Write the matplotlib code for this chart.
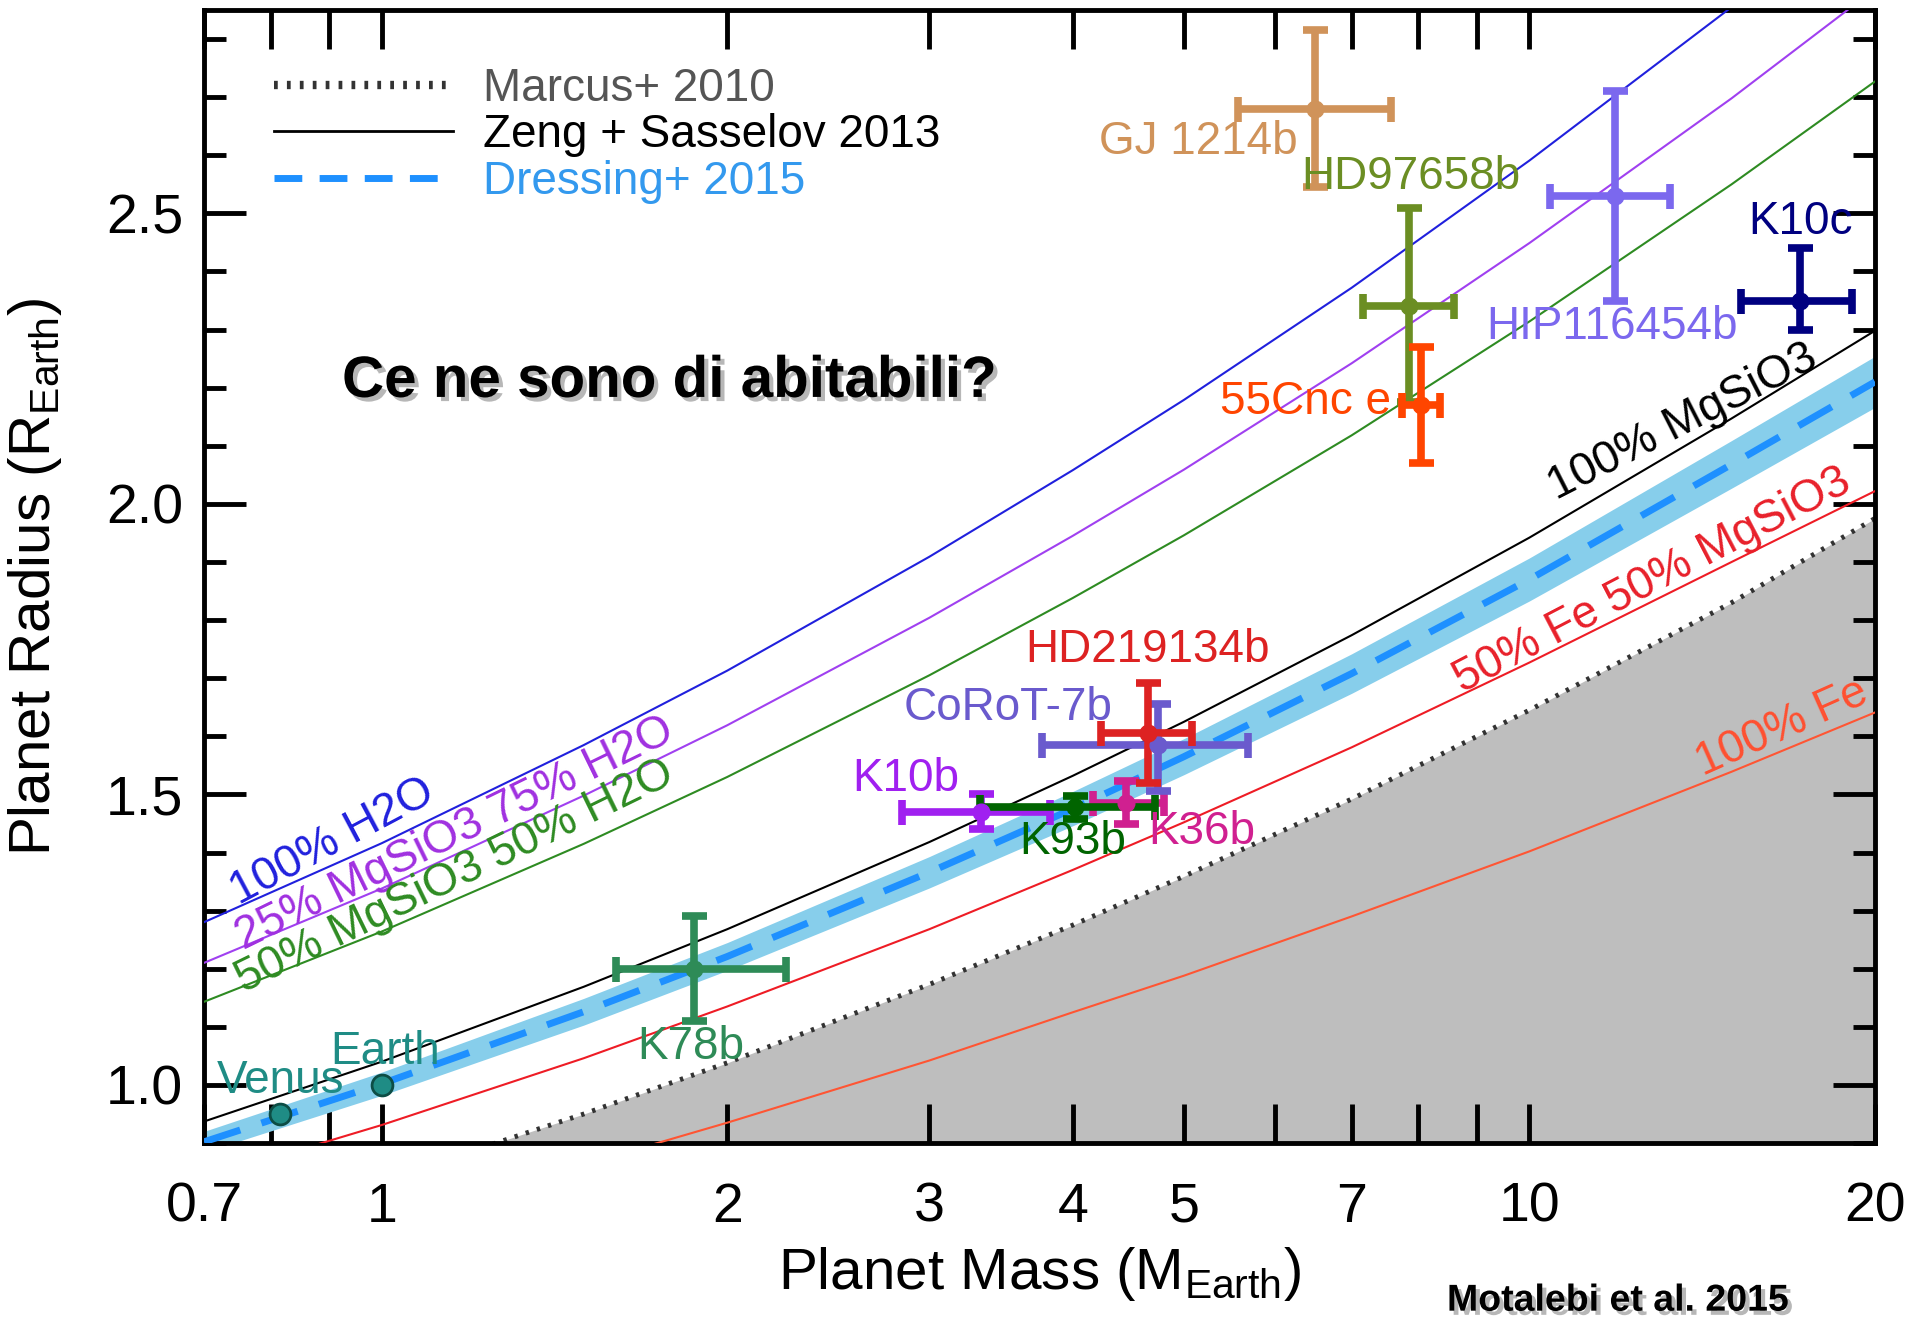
import numpy as np
import matplotlib
matplotlib.use("Agg")
import matplotlib.pyplot as plt
import matplotlib.patheffects as pe
from matplotlib.ticker import MultipleLocator, NullFormatter

plt.rcParams['font.family'] = ['Liberation Sans', 'DejaVu Sans']
plt.rcParams['mathtext.default'] = 'regular'

# composition curves (mass in M_earth, radius in R_earth)
mass_grid = [0.7, 1.0, 1.5, 2.0, 3.0, 4.0, 5.0, 7.0, 10.0, 15.0, 20.0]
r_h2o = [1.280, 1.416, 1.585, 1.713, 1.909, 2.058, 2.179, 2.372, 2.591, 2.855, 3.054]
r_25mg = [1.210, 1.338, 1.498, 1.619, 1.804, 1.945, 2.059, 2.242, 2.449, 2.698, 2.886]
r_50mg = [1.143, 1.264, 1.415, 1.530, 1.705, 1.838, 1.946, 2.118, 2.314, 2.550, 2.727]
r_mgsio3 = [0.937, 1.040, 1.169, 1.268, 1.418, 1.532, 1.625, 1.774, 1.942, 2.147, 2.298]
r_dressing = [0.902, 1.002, 1.126, 1.221, 1.366, 1.475, 1.565, 1.708, 1.870, 2.068, 2.210]
r_dressing_hi = [0.920, 1.022, 1.149, 1.245, 1.393, 1.505, 1.596, 1.742, 1.907, 2.109, 2.254]
r_dressing_lo = [0.884, 0.982, 1.103, 1.197, 1.339, 1.446, 1.534, 1.674, 1.833, 2.027, 2.166]
r_fe50 = [0.839, 0.931, 1.046, 1.135, 1.268, 1.370, 1.452, 1.581, 1.727, 1.900, 2.022]

mass_fe = [1.5, 2.0, 3.0, 4.0, 5.0, 7.0, 10.0, 15.0, 20.0]
r_fe = [0.863, 0.935, 1.042, 1.125, 1.188, 1.290, 1.402, 1.539, 1.641]

mass_marcus = [1.0, 1.5, 2.0, 3.0, 4.0, 5.0, 7.0, 10.0, 15.0, 20.0]
r_marcus = [0.835, 0.950, 1.038, 1.173, 1.275, 1.359, 1.492, 1.645, 1.830, 1.975]

# planets
names = ['K78b', 'K10b', 'K36b', 'CoRoT-7b', 'K93b', 'HD219134b', 'GJ 1214b',
         'HD97658b', '55Cnc e', 'HIP116454b', 'K10c']
p_mass = [1.87, 3.33, 4.45, 4.75, 4.02, 4.65, 6.5, 7.86, 8.05, 11.86, 17.2]
p_mass_lo = [0.27, 0.49, 0.28, 0.99, 0.70, 0.42, 0.93, 0.70, 0.30, 1.43, 1.9]
p_mass_hi = [0.38, 0.49, 0.35, 0.94, 0.70, 0.43, 1.08, 0.73, 0.30, 1.39, 1.9]
p_rad = [1.20, 1.47, 1.486, 1.585, 1.478, 1.606, 2.68, 2.34, 2.17, 2.53, 2.35]
p_rad_lo = [0.09, 0.03, 0.037, 0.08, 0.02, 0.086, 0.135, 0.165, 0.10, 0.18, 0.05]
p_rad_hi = [0.09, 0.03, 0.037, 0.07, 0.02, 0.086, 0.135, 0.170, 0.10, 0.18, 0.09]
p_colors = ['#2E8B57', '#A020F0', '#D02090', '#6A5ACD', '#006400', '#DD2222',
            '#D0935A', '#6B8E23', '#FF4500', '#7B68EE', '#000080']
p_label_pos = [(1.67, 1.065), (2.57, 1.527), (4.65, 1.435), (2.85, 1.649),
               (3.59, 1.418), (3.64, 1.748), (4.22, 2.622), (6.33, 2.563),
               (5.37, 2.176), (9.17, 2.305), (15.5, 2.485)]

solar_names = ['Venus', 'Earth']
solar_mass = [0.815, 1.0]
solar_rad = [0.95, 1.0]
solar_label_pos = [(0.719, 1.006), (0.901, 1.057)]

fig = plt.figure(figsize=(19.15, 13.17), dpi=100)
ax = fig.add_axes([0.1065, 0.1321, 0.8726, 0.8603])
ax.set_xscale('log')

# excluded region (Marcus et al. 2010)
ax.fill_between(mass_marcus, r_marcus, 0.5, color='#BEBEBE', lw=0, zorder=1)
ax.plot(mass_marcus, r_marcus, color='#333333', lw=3.5, ls=(0, (0.7, 1.7)), zorder=2)

# Dressing band + dashed fit
ax.fill_between(mass_grid, r_dressing_lo, r_dressing_hi, color='#87CEEB', lw=0, zorder=2)
ax.plot(mass_grid, r_dressing, color='#1E90FF', lw=5, ls=(0, (5.5, 3.2)), zorder=3)

# Zeng & Sasselov composition curves
ax.plot(mass_grid, r_h2o, color='#2020DD', lw=1.5, zorder=3)
ax.plot(mass_grid, r_25mg, color='#A040F0', lw=1.5, zorder=3)
ax.plot(mass_grid, r_50mg, color='#2E8B22', lw=1.5, zorder=3)
ax.plot(mass_grid, r_mgsio3, color='black', lw=1.5, zorder=3)
ax.plot(mass_grid, r_fe50, color='#EE1C25', lw=1.5, zorder=3)
ax.plot(mass_fe, r_fe, color='#FF5533', lw=1.5, zorder=3)

curve_labels = [
    ('100% H2O', 0.906, 1.418, '#2020DD', 28),
    ('25% MgSiO3 75% H2O', 1.157, 1.433, '#A030E0', 26),
    ('50% MgSiO3 50% H2O', 1.157, 1.359, '#2E8B22', 26),
    ('100% MgSiO3', 13.6, 2.14, 'black', 27),
    ('50% Fe 50% MgSiO3', 12.8, 1.868, '#E8202A', 27.5),
    ('100% Fe', 16.6, 1.615, '#FF5030', 24),
]
for txt, x, y, c, rot in curve_labels:
    ax.text(x, y, txt, color=c, fontsize=33, rotation=rot, ha='center', va='center',
            rotation_mode='anchor', zorder=4)

# planets with error bars
for i in range(len(names)):
    ax.errorbar(p_mass[i], p_rad[i],
                xerr=[[p_mass_lo[i]], [p_mass_hi[i]]],
                yerr=[[p_rad_lo[i]], [p_rad_hi[i]]],
                fmt='o', color=p_colors[i], ms=12, elinewidth=5.5,
                capsize=9, capthick=5.5, zorder=5)
    ax.text(p_label_pos[i][0], p_label_pos[i][1], names[i], color=p_colors[i],
            fontsize=33, ha='left', va='center', zorder=6)

ax.plot(solar_mass, solar_rad, 'o', color='#1F8C85', mec='#0D4D45', mew=2, ms=15, zorder=6)
for i in range(len(solar_names)):
    ax.text(solar_label_pos[i][0], solar_label_pos[i][1], solar_names[i],
            color='#1F8C85', fontsize=33, ha='left', va='center', zorder=6)

# legend
h1, = ax.plot([], [], color='#333333', lw=6, ls=(0, (0.45, 1.1)))
h2, = ax.plot([], [], color='black', lw=2)
h3, = ax.plot([], [], color='#1E90FF', lw=5, ls=(0, (4, 2.5)))
leg = ax.legend([h1, h2, h3], ['Marcus+ 2010', 'Zeng + Sasselov 2013', 'Dressing+ 2015'],
                loc='upper left', bbox_to_anchor=(0.042, 0.950), frameon=False,
                fontsize=33, handlelength=3.9, handletextpad=0.65,
                labelspacing=0.06, borderpad=0, borderaxespad=0)
for t, c in zip(leg.get_texts(), ['#555555', 'black', '#3399EE']):
    t.set_color(c)

ax.set_xlim(0.7, 20)
ax.set_ylim(0.9, 2.85)

ax.set_xticks([0.7, 1, 2, 3, 4, 5, 7, 10, 20])
ax.set_xticklabels(['0.7', '1', '2', '3', '4', '5', '7', '10', '20'])
ax.set_xticks([0.8, 0.9, 6, 8, 9], minor=True)
ax.xaxis.set_minor_formatter(NullFormatter())
ax.set_yticks([1.0, 1.5, 2.0, 2.5])
ax.set_yticklabels(['1.0', '1.5', '2.0', '2.5'])
ax.yaxis.set_minor_locator(MultipleLocator(0.1))

ax.tick_params(axis='x', which='both', direction='in', top=True, length=28, width=3.5,
               labelsize=40, pad=28)
ax.tick_params(axis='y', which='major', direction='in', right=True, length=30, width=3.5,
               labelsize=40, pad=15)
ax.tick_params(axis='y', which='minor', direction='in', right=True, length=16, width=3.5)
for s in ax.spines.values():
    s.set_linewidth(3.5)

ax.set_xlabel('Planet Mass (M$_{Earth}$)', fontsize=42, labelpad=8)
ax.set_ylabel('Planet Radius (R$_{Earth}$)', fontsize=42, labelpad=30)

shadow = [pe.SimplePatchShadow(offset=(3, -3), shadow_rgbFace='#888888', alpha=0.6), pe.Normal()]
fig.text(0.1786, 0.71, 'Ce ne sono di abitabili?', fontsize=42, fontweight='bold',
         ha='left', va='center', path_effects=shadow)
fig.text(0.7556, 0.0124, 'Motalebi et al. 2015', fontsize=27, fontweight='bold',
         ha='left', va='center', path_effects=shadow)

fig.savefig('out.png', dpi=100)
